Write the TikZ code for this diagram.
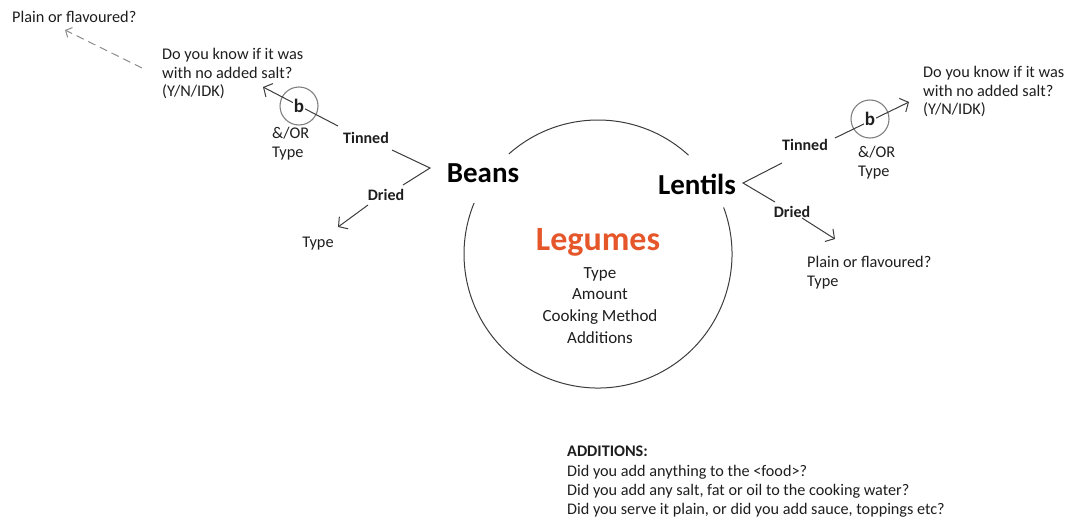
\documentclass[tikz,border=0pt]{standalone}
\usepackage{fontspec}
\setmainfont{Carlito}
\usetikzlibrary{arrows.meta}
\definecolor{ink}{HTML}{1E1E1E}
\definecolor{legume}{HTML}{E5572B}
\definecolor{lineg}{HTML}{3C3C3C}
\definecolor{ringg}{HTML}{808080}
\definecolor{dashg}{HTML}{8C8C8C}
\begin{document}
\begin{tikzpicture}[x=1pt,y=-1pt,
  txt/.style={font=\fontsize{16.3}{18.7}\selectfont, text=ink, inner sep=0pt, align=left},
  ctxt/.style={font=\fontsize{17}{21.7}\selectfont, text=ink, inner sep=0pt, align=center},
  lbl/.style={font=\fontsize{16}{18}\selectfont\bfseries, text=ink, inner sep=0pt},
  food/.style={font=\fontsize{29}{32}\selectfont\bfseries, text=black, inner sep=0pt},
  link/.style={draw=lineg, line width=1pt},
  arr/.style={link, -{Straight Barb[length=6.5pt,width=15pt]}},
  ring/.style={circle, draw=ringg, line width=1.1pt, minimum size=38pt, inner sep=0pt},
  bmark/.style={font=\fontsize{19}{21}\selectfont\bfseries, text=ink, fill=white, inner sep=1pt},
]
\useasboundingbox (0,0) rectangle (1077,522);

% central circle, broken where the two food names sit
\draw[lineg, line width=1pt] (598,254) ++(-131.7:134) arc[start angle=-131.7, end angle=-47.5, radius=134];
\draw[lineg, line width=1pt] (598,254) ++(-20.3:134) arc[start angle=-20.3, end angle=202.4, radius=134];

\node[font=\fontsize{34}{38}\selectfont\bfseries, text=legume, inner sep=0pt] (leg) at (598,242) {Legumes};
\node[ctxt, anchor=north] (legitems) at (600,267) {Type\\Amount\\Cooking Method\\Additions};

\node[food] (beans) at (483,173) {Beans};
\node[food] (lentils) at (697,184) {Lentils};

% ---- Beans branch ----
\coordinate (bvtx) at (430,168);
\coordinate (bt1) at (392,150);
\coordinate (bd1) at (403,185);
\draw[link] (bt1) -- (bvtx) -- (bd1);
\node[lbl] (btin) at (366,138) {Tinned};
\node[lbl] (bdry) at (386,195) {Dried};

\node[ring] (bring) at (299,106) {};
\coordinate (btin0) at (338,126);
\coordinate (btip) at (263,87);
\draw[arr] (btin0) -- (btip);
\node[bmark] (bb) at (bring) {b};
\node[txt, anchor=north west] (bor) at (272,127) {\&/OR\\Type};

\coordinate (bdry0) at (368,205);
\coordinate (bdtip) at (338,227);
\draw[arr] (bdry0) -- (bdtip);
\node[txt] (btype) at (318,244) {Type};

\node[txt, anchor=north west] (bq) at (162,48) {Do you know if it was\\with no added salt?\\(Y/N/IDK)};

\coordinate (bq0) at (142,68);
\coordinate (bqtip) at (65,30);
\draw[dashg, line width=1pt, dash pattern=on 8pt off 5pt, -{Straight Barb[length=5pt,width=11pt]}] (bq0) -- (bqtip);
\node[txt, anchor=west] (bplain) at (12,17) {Plain or flavoured?};

% ---- Lentils branch ----
\coordinate (lvtx) at (743,183);
\coordinate (lt1) at (782,163);
\coordinate (ld1) at (775,202);
\draw[link] (lt1) -- (lvtx) -- (ld1);
\node[lbl] (ltin) at (805,145) {Tinned};
\node[lbl] (ldry) at (792,212) {Dried};

\node[ring] (lring) at (870,119) {};
\coordinate (ltin0) at (835,138);
\coordinate (ltip) at (909,102);
\draw[arr] (ltin0) -- (ltip);
\node[bmark] (lb) at (lring) {b};
\node[txt, anchor=north west] (lor) at (858,146) {\&/OR\\Type};

\coordinate (ldry0) at (802,218);
\coordinate (ldtip) at (835,239);
\draw[arr] (ldry0) -- (ldtip);
\node[txt, anchor=north west] (lplain) at (807,256) {Plain or flavoured?\\Type};

\node[txt, anchor=north west] (lq) at (923,66) {Do you know if it was\\with no added salt?\\(Y/N/IDK)};

% ---- additions note ----
\node[txt, anchor=north west, font=\fontsize{16.2}{19.2}\selectfont] (addn) at (567,446)
  {\textbf{ADDITIONS:}\\Did you add anything to the <food>?\\Did you add any salt, fat or oil to the cooking water?\\Did you serve it plain, or did you add sauce, toppings etc?};
\end{tikzpicture}
\end{document}
